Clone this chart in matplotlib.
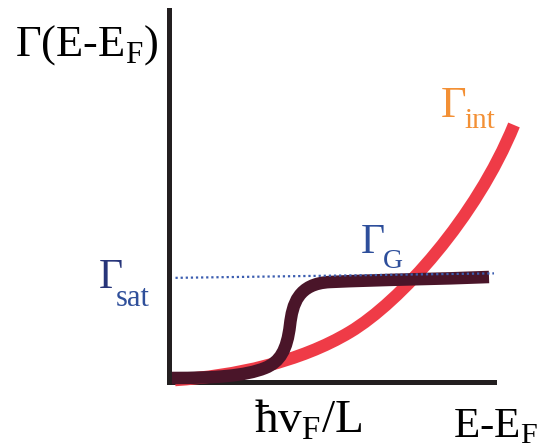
import matplotlib
matplotlib.use("Agg")
import matplotlib.pyplot as plt
from matplotlib.path import Path
from matplotlib.patches import PathPatch

plt.rcParams['font.family'] = ['Liberation Serif', 'DejaVu Serif']
plt.rcParams['mathtext.fontset'] = 'custom'
plt.rcParams['mathtext.rm'] = 'Liberation Serif'

# sketch curves as cubic bezier control points
# (arbitrary units, origin at the axes corner)
int_x = [0.185, 2.031, 4.031, 5.569, 7.108, 9.446, 10.615]
int_y = [0.054, 0.161, 0.538, 1.344, 2.151, 4.409, 6.909]

g_x = [0.092, 1.415, 2.338, 2.954, 3.415, 3.631, 3.723, 3.800, 3.969, 4.954, 6.492, 8.338, 9.846]
g_y = [0.108, 0.108, 0.161, 0.376, 0.538, 0.860, 1.532, 2.097, 2.648, 2.688, 2.750, 2.769, 2.823]

sat_x = [0.2, 10.0]
sat_y = [2.80, 2.92]

W, H = 553, 447


def px(x, y):
    """pixel position -> figure fraction"""
    return x / W, 1 - y / H


def bezier(xs, ys):
    verts = list(zip(xs, ys))
    codes = [Path.MOVETO] + [Path.CURVE4] * (len(verts) - 1)
    return Path(verts, codes)


fig = plt.figure(figsize=(W / 100, H / 100), dpi=100)
ax = fig.add_axes([169 / W, 65 / H, 325 / W, 372 / H])
ax.set_xlim(0, 10)
ax.set_ylim(0, 10)
for s in ("top", "right"):
    ax.spines[s].set_visible(False)
for s in ("left", "bottom"):
    ax.spines[s].set_linewidth(3.6)
    ax.spines[s].set_color("#231f20")
ax.set_xticks([])
ax.set_yticks([])

ax.add_patch(PathPatch(bezier(int_x, int_y), fill=False, ec="#ef3b47", lw=9,
                       capstyle="butt", joinstyle="round", clip_on=False, zorder=3))
ax.add_patch(PathPatch(bezier(g_x, g_y), fill=False, ec="#4a1529", lw=9,
                       capstyle="butt", joinstyle="round", clip_on=False, zorder=4))
ax.plot(sat_x, sat_y, color="#3b5db0", lw=1.6, ls=(0, (1, 1.3)),
        clip_on=False, zorder=5)

# labels
fig.text(*px(15, 56), "Γ(E-E$_{\\mathrm{F}}$)", fontsize=32, va="baseline")
fig.text(*px(254, 432), "ħv$_{\\mathrm{F}}$/L", fontsize=34, va="baseline")
fig.text(*px(453, 437), "E-E$_{\\mathrm{F}}$", fontsize=31, va="baseline")

fig.text(*px(441, 117), "Γ", fontsize=32, color="#f39035", va="baseline")
fig.text(*px(464, 128), "int", fontsize=21, color="#f39035", va="baseline")

fig.text(*px(361, 253), "Γ", fontsize=30, color="#2d4e9b", va="baseline")
fig.text(*px(383, 268), "G", fontsize=20, color="#2d4e9b", va="baseline")

fig.text(*px(99, 288), "Γ", fontsize=30, color="#27357a", va="baseline")
fig.text(*px(116, 306), "sat", fontsize=22, color="#2f4f9a", va="baseline")

fig.savefig("out.png", dpi=100)
